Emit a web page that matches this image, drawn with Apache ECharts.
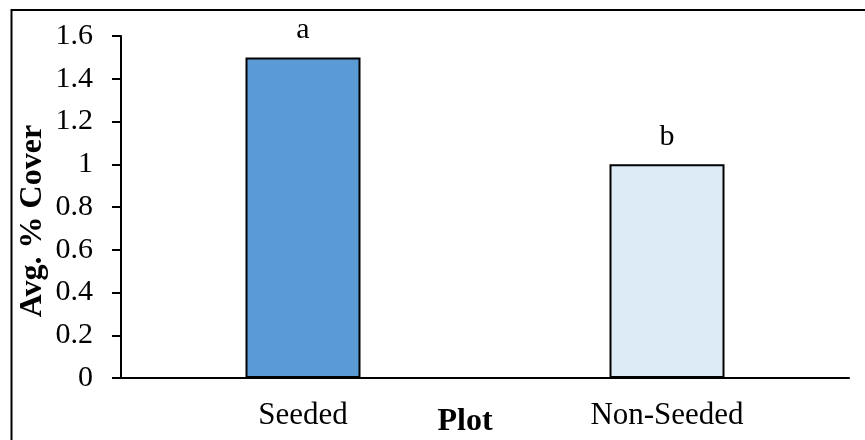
<!DOCTYPE html>
<html>
<head>
<meta charset="utf-8">
<script src="https://cdn.jsdelivr.net/npm/echarts@6/dist/echarts.min.js"></script>
<style>html,body{margin:0;padding:0;background:#fff}#c{width:865px;height:440px}</style>
</head>
<body>
<div id="c"></div>
<script>
const categories = ['Seeded', 'Non-Seeded'];
const values = [1.5, 1.0];
const letters = ['a', 'b'];
const barColors = ['#5B9BD5', '#DDEBF7'];
const yTitle = 'Avg. % Cover';
const xTitle = 'Plot';

const serif = '"Liberation Serif", "Times New Roman", serif';
const chart = echarts.init(document.getElementById('c'), null, {renderer: 'canvas'});
chart.setOption({
  animation: false,
  backgroundColor: '#fff',
  grid: {left: 121, right: 16, top: 36, bottom: 62, containLabel: false},
  xAxis: {
    type: 'category',
    data: categories,
    axisLine: {show: true, lineStyle: {color: '#000', width: 2}},
    axisTick: {show: false},
    axisLabel: {color: '#000', fontFamily: serif, fontSize: 31, margin: 22}
  },
  yAxis: {
    type: 'value',
    min: 0, max: 1.6, interval: 0.2,
    splitLine: {show: false},
    axisLine: {show: true, lineStyle: {color: '#000', width: 2}},
    axisTick: {show: true, length: 9, lineStyle: {color: '#000', width: 2}},
    axisLabel: {color: '#000', fontFamily: serif, fontSize: 30, margin: 28,
      formatter: v => String(Math.round(v * 10) / 10)}
  },
  series: [{
    type: 'bar',
    barWidth: 115,
    data: values.map((v, i) => ({
      value: v,
      itemStyle: {color: barColors[i], borderColor: '#000', borderWidth: 2},
      label: {show: true, position: 'top', distance: 12, formatter: letters[i],
        color: '#000', fontFamily: serif, fontSize: 30}
    }))
  }],
  graphic: [
    {type: 'rect', shape: {x: 11.5, y: 10, width: 900, height: 500},
      style: {fill: 'none', stroke: '#000', lineWidth: 2}, silent: true, z: 100},
    {type: 'text', x: 33, y: 221, rotation: Math.PI / 2,
      style: {text: yTitle, fill: '#000', font: 'bold 32px ' + serif, textAlign: 'center', textVerticalAlign: 'middle'}},
    {type: 'text', x: 465, y: 422,
      style: {text: xTitle, fill: '#000', font: 'bold 32px ' + serif, textAlign: 'center', textVerticalAlign: 'middle'}}
  ]
});
</script>
</body>
</html>
